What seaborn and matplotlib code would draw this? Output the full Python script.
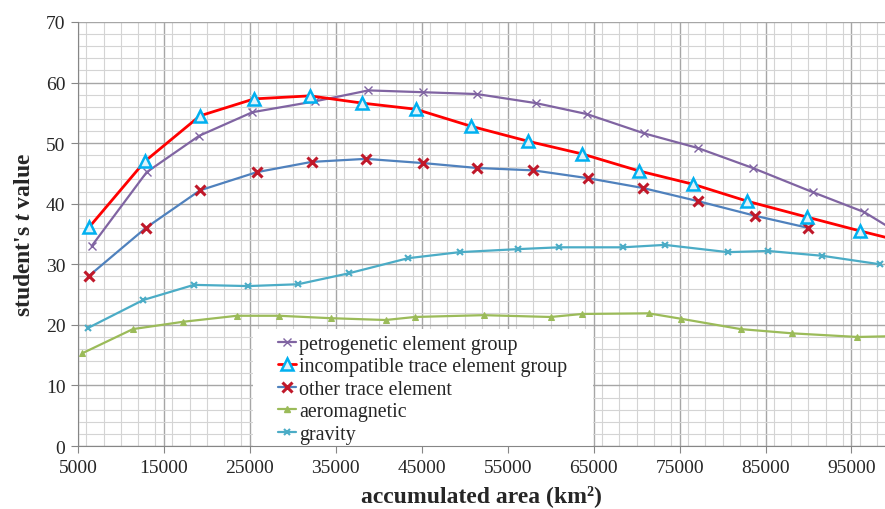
import pandas as pd
import seaborn as sns
import matplotlib.pyplot as plt
from matplotlib.ticker import MultipleLocator
from matplotlib.lines import Line2D
from matplotlib.patches import Rectangle

# values (km2 vs student's t)
petro_x = [6600, 13000, 19100, 25300, 32600, 38800, 45200, 51400, 58300, 64200, 70900, 77100, 83500, 90500, 96500, 102500]
petro_y = [33.0, 45.2, 51.2, 55.1, 56.9, 58.7, 58.4, 58.1, 56.6, 54.8, 51.6, 49.2, 45.9, 41.9, 38.6, 33.4]

incomp_x = [6300, 12800, 19200, 25500, 32000, 38100, 44300, 50700, 57400, 63700, 70300, 76600, 82900, 89800, 96000, 102500]
incomp_y = [36.1, 47.0, 54.5, 57.3, 57.8, 56.6, 55.6, 52.8, 50.3, 48.2, 45.4, 43.2, 40.4, 37.8, 35.5, 33.2]

other_x = [6300, 12900, 19200, 25800, 32200, 38500, 45200, 51400, 58000, 64400, 70700, 77200, 83800, 90000]
other_y = [28.1, 36.0, 42.2, 45.2, 46.9, 47.4, 46.7, 45.9, 45.5, 44.2, 42.6, 40.4, 38.0, 36.0]

aero_x = [5500, 11400, 17200, 23500, 28400, 34400, 40800, 44200, 52200, 60000, 63700, 71400, 75200, 82100, 88100, 95700, 102000]
aero_y = [15.3, 19.3, 20.5, 21.5, 21.5, 21.1, 20.8, 21.3, 21.6, 21.3, 21.8, 21.9, 21.0, 19.3, 18.6, 18.0, 18.2]

grav_x = [6200, 12600, 18500, 24800, 30600, 36500, 43400, 49400, 56200, 61000, 68400, 73300, 80600, 85300, 91600, 98300]
grav_y = [19.5, 24.1, 26.6, 26.4, 26.7, 28.5, 31.0, 32.0, 32.5, 32.8, 32.8, 33.2, 32.0, 32.2, 31.4, 30.0]

x_ticks = list(range(5000, 100000, 10000))

sns.set_style('white')
plt.rcParams['font.family'] = ['Liberation Serif', 'DejaVu Serif']
plt.rcParams['mathtext.fontset'] = 'custom'
plt.rcParams['mathtext.bfit'] = 'Liberation Serif:italic:bold'

fig = plt.figure(figsize=(8.85, 5.10), dpi=100)
ax = fig.add_axes([0.088, 0.1235, 0.912, 0.8315])

# series: (label, x, y, line colour, marker style)
series = [
    ('aeromagnetic', aero_x, aero_y, '#9BBB59',
     dict(marker='^', markersize=5, markerfacecolor='#9BBB59', markeredgecolor='#9BBB59')),
    ('gravity', grav_x, grav_y, '#4BACC6',
     dict(marker='x', markersize=5, markeredgewidth=1.5, markeredgecolor='#4BACC6')),
    ('petrogenetic element group', petro_x, petro_y, '#8064A2',
     dict(marker='x', markersize=6, markeredgewidth=1.0, markeredgecolor='#8064A2')),
    ('other trace element', other_x, other_y, '#4F81BD',
     dict(marker='x', markersize=7, markeredgewidth=2.2, markeredgecolor='#C0182A')),
    ('incompatible trace element group', incomp_x, incomp_y, '#FF0000',
     dict(marker='^', markersize=8, markeredgewidth=1.8, markerfacecolor='#DDF3FB',
          markeredgecolor='#00B0F0')),
]

handles = {}
for label, xs, ys, color, mk in series:
    df = pd.DataFrame({'x': xs, 'y': ys})
    lw = 2.0 if color == '#FF0000' else 1.6
    sns.lineplot(data=df, x='x', y='y', ax=ax, color=color, linewidth=lw,
                 legend=False, **mk)
    handles[label] = Line2D([], [], color=color, linewidth=lw, **mk)

ax.set_xlim(5000, 98900)
ax.set_ylim(0, 70)
ax.set_xticks(x_ticks)
ax.xaxis.set_minor_locator(MultipleLocator(2000))
ax.yaxis.set_major_locator(MultipleLocator(10))
ax.yaxis.set_minor_locator(MultipleLocator(2))
ax.set_axisbelow(True)
ax.grid(which='major', color='#A6A6A6', linewidth=1.0)
ax.grid(which='minor', color='#D4D4D4', linewidth=0.8)
ax.tick_params(axis='both', which='major', labelsize=14, length=5, color='#868686',
               direction='out', left=True, bottom=True, pad=4)
for s in ['top', 'right']:
    ax.spines[s].set_visible(False)
for s in ['left', 'bottom']:
    ax.spines[s].set_color('#868686')

ax.set_xlabel('accumulated area (km²)', fontsize=17, fontweight='bold', labelpad=6)
ax.set_ylabel("student's $\\mathbfit{t}$ value", fontsize=17, fontweight='bold', labelpad=8)

# white legend panel covering the grid
ax.add_patch(Rectangle((0.217, 0.0), 0.421, 0.276, transform=ax.transAxes,
                       facecolor='white', edgecolor='none', zorder=1.5))

order = ['petrogenetic element group', 'incompatible trace element group',
         'other trace element', 'aeromagnetic', 'gravity']
leg = ax.legend([handles[k] for k in order], order, loc='upper left',
                bbox_to_anchor=(0.2354, 0.2854), fontsize=14.4, frameon=False,
                handlelength=0.9, handletextpad=0.15, labelspacing=0.17,
                borderpad=0.5, borderaxespad=0)

fig.savefig('out.png', dpi=100)
